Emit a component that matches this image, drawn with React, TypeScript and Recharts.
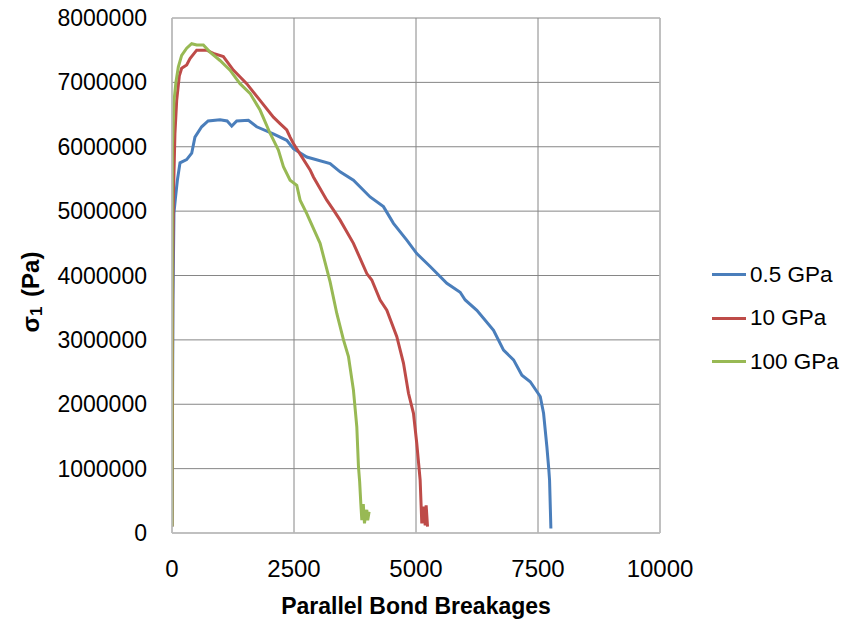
import React from "react";
import {
  LineChart,
  Line,
  XAxis,
  YAxis,
  CartesianGrid,
  Legend,
  ReferenceLine,
} from "recharts";

if (typeof document !== "undefined") {
  document.body.style.margin = "0";
}

const FONT = "'Liberation Sans', Arial, sans-serif";

const xTicks = [0, 2500, 5000, 7500, 10000];
const yTicks = [0, 1000000, 2000000, 3000000, 4000000, 5000000, 6000000, 7000000, 8000000];

const seriesNames = ["0.5 GPa", "10 GPa", "100 GPa"];
const seriesColors = ["#4A7EBB", "#BE4B48", "#98B954"];

// 0.5 GPa
const blueX = [0, 20, 40, 70, 110, 164, 300, 404, 470, 608, 740, 984, 1130, 1224, 1326, 1565, 1736, 2075, 2352, 2488, 2762, 3240, 3445, 3718, 4060, 4333, 4538, 4811, 5016, 5290, 5632, 5905, 6008, 6247, 6589, 6794, 6999, 7170, 7341, 7546, 7614, 7682, 7720, 7737, 7764];
const blueY = [100000, 3600000, 4970000, 5200000, 5480000, 5750000, 5800000, 5900000, 6150000, 6310000, 6400000, 6420000, 6400000, 6320000, 6400000, 6410000, 6310000, 6200000, 6100000, 5970000, 5840000, 5740000, 5610000, 5480000, 5220000, 5070000, 4810000, 4550000, 4340000, 4140000, 3880000, 3740000, 3620000, 3460000, 3150000, 2840000, 2690000, 2450000, 2350000, 2120000, 1860000, 1340000, 1000000, 820000, 70000];

// 10 GPa
const redX = [0, 15, 27, 60, 96, 150, 198, 301, 369, 506, 711, 847, 1052, 1257, 1531, 1804, 2078, 2214, 2352, 2420, 2488, 2830, 2898, 3172, 3308, 3445, 3718, 3992, 4094, 4265, 4402, 4607, 4743, 4846, 4948, 5016, 5085, 5119, 5153, 5188, 5208, 5236];
const redY = [100000, 4000000, 5170000, 6200000, 6720000, 7100000, 7220000, 7270000, 7370000, 7500000, 7500000, 7450000, 7400000, 7190000, 6980000, 6720000, 6460000, 6360000, 6260000, 6150000, 6050000, 5640000, 5530000, 5170000, 5020000, 4860000, 4500000, 4030000, 3930000, 3620000, 3460000, 3050000, 2640000, 2170000, 1860000, 1390000, 820000, 150000, 410000, 120000, 430000, 100000];

// 100 GPa
const greenX = [0, 3, 8, 40, 80, 130, 198, 301, 403, 506, 643, 779, 984, 1189, 1394, 1599, 1804, 2009, 2180, 2283, 2420, 2557, 2625, 2762, 3035, 3240, 3377, 3514, 3616, 3718, 3787, 3821, 3845, 3869, 3890, 3920, 3944, 3970, 3992, 4010, 4039];
const greenY = [100000, 3000000, 6000000, 6700000, 7000000, 7240000, 7420000, 7530000, 7600000, 7580000, 7580000, 7470000, 7340000, 7190000, 6980000, 6830000, 6570000, 6210000, 5950000, 5690000, 5480000, 5400000, 5170000, 4960000, 4500000, 3900000, 3410000, 3000000, 2740000, 2220000, 1650000, 1030000, 800000, 460000, 200000, 450000, 150000, 300000, 360000, 200000, 330000];

const toPoints = (xs: number[], ys: number[]) => xs.map((x, i) => ({ x, y: ys[i] }));

const seriesData = [
  toPoints(blueX, blueY),
  toPoints(redX, redY),
  toPoints(greenX, greenY),
];

const XTick = (props: any) => {
  const { x, y, payload } = props;
  return (
    <text
      x={x}
      y={y + 35}
      textAnchor="middle"
      dominantBaseline="central"
      fontSize={24}
      fontFamily={FONT}
      fill="#000"
    >
      {payload.value}
    </text>
  );
};

const YTick = (props: any) => {
  const { x, y, payload } = props;
  return (
    <text
      x={x - 25}
      y={y}
      textAnchor="end"
      dominantBaseline="central"
      fontSize={23}
      fontFamily={FONT}
      fill="#000"
    >
      {payload.value}
    </text>
  );
};

const YTitle = () => (
  <text
    x={30}
    y={292}
    transform="rotate(-90, 30, 292)"
    textAnchor="middle"
    dominantBaseline="central"
    fontSize={24}
    fontWeight="bold"
    fontFamily={FONT}
    fill="#000"
  >
    σ
    <tspan fontSize={17} dy={6}>1</tspan>
    <tspan dy={-6} dx={3}> (Pa)</tspan>
  </text>
);

const XTitle = () => (
  <text
    x={416}
    y={606}
    textAnchor="middle"
    dominantBaseline="central"
    fontSize={23}
    fontWeight="bold"
    fontFamily={FONT}
    fill="#000"
  >
    Parallel Bond Breakages
  </text>
);

const LegendContent = (props: any) => {
  const payload = props.payload || [];
  return (
    <div style={{ fontFamily: FONT }}>
      {payload.map((entry: any, i: number) => (
        <div
          key={i}
          style={{ display: "flex", alignItems: "center", height: 43.5 }}
        >
          <div
            style={{
              width: 34,
              height: 3,
              background: entry.color,
            }}
          />
          <span style={{ marginLeft: 4, fontSize: 22.5, color: "#000", whiteSpace: "nowrap" }}>
            {entry.value}
          </span>
        </div>
      ))}
    </div>
  );
};

export default function App() {
  return (
    <div style={{ width: 843, height: 623, background: "#fff" }}>
      <LineChart
        width={843}
        height={623}
        margin={{ top: 18, right: 183, left: 0, bottom: 0 }}
      >
        <CartesianGrid stroke="#868686" strokeWidth={1} />
        <XAxis
          type="number"
          dataKey="x"
          domain={[0, 10000]}
          ticks={xTicks}
          allowDataOverflow
          height={90}
          tickLine={false}
          tickSize={0}
          tickMargin={0}
          tick={<XTick />}
          axisLine={{ stroke: "#BFBFBF", strokeWidth: 1.5 }}
          label={<XTitle />}
        />
        <YAxis
          type="number"
          dataKey="y"
          domain={[0, 8000000]}
          ticks={yTicks}
          allowDataOverflow
          width={172}
          tickLine={false}
          tickSize={0}
          tickMargin={0}
          tick={<YTick />}
          axisLine={{ stroke: "#BFBFBF", strokeWidth: 1.5 }}
          label={<YTitle />}
        />
        <ReferenceLine x={10000} stroke="#BFBFBF" strokeWidth={1.5} />
        <Legend
          layout="vertical"
          align="center"
          verticalAlign="middle"
          width={131}
          content={<LegendContent />}
          wrapperStyle={{ left: 712, top: 253, width: 131, height: 131 }}
        />
        {seriesData.map((d, i) => (
          <Line
            key={seriesNames[i]}
            data={d}
            dataKey="y"
            name={seriesNames[i]}
            type="linear"
            stroke={seriesColors[i]}
            strokeWidth={3}
            dot={false}
            activeDot={false}
            isAnimationActive={false}
          />
        ))}
      </LineChart>
    </div>
  );
}
